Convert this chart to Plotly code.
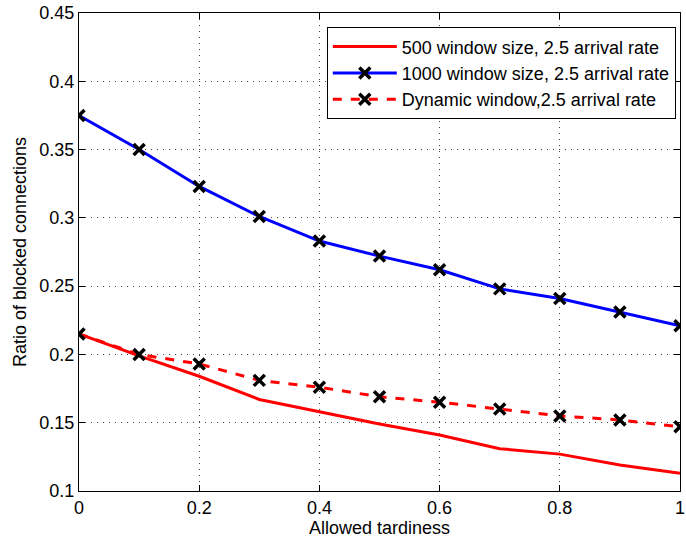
import plotly.graph_objects as go

tardiness = [0, 0.1, 0.2, 0.3, 0.4, 0.5, 0.6, 0.7, 0.8, 0.9, 1.0]
win500 = [0.215, 0.199, 0.184, 0.167, 0.158, 0.149, 0.141, 0.131, 0.127, 0.119, 0.113]
win1000 = [0.375, 0.350, 0.323, 0.301, 0.283, 0.272, 0.262, 0.248, 0.241, 0.231, 0.221]
dynamic = [0.215, 0.200, 0.193, 0.181, 0.176, 0.169, 0.165, 0.160, 0.155, 0.152, 0.147]

names = ["500 window size, 2.5 arrival rate",
         "1000 window size, 2.5 arrival rate",
         "Dynamic window,2.5 arrival rate"]

xticks = [0, 0.2, 0.4, 0.6, 0.8, 1]
xticklabels = ["0", "0.2", "0.4", "0.6", "0.8", "1"]
yticks = [0.1, 0.15, 0.2, 0.25, 0.3, 0.35, 0.4, 0.45]
yticklabels = ["0.1", "0.15", "0.2", "0.25", "0.3", "0.35", "0.4", "0.45"]

font = "Liberation Sans, Arial, sans-serif"
mk = dict(symbol="x-thin", size=11, color="black", line=dict(color="black", width=3.5))

fig = go.Figure()
fig.add_trace(go.Scatter(x=tardiness, y=win500, mode="lines", name=names[0],
                         line=dict(color="#ff0000", width=3)))
fig.add_trace(go.Scatter(x=tardiness, y=win1000, mode="lines+markers", name=names[1],
                         line=dict(color="#0000ff", width=3), marker=mk))
fig.add_trace(go.Scatter(x=tardiness, y=dynamic, mode="lines+markers", name=names[2],
                         line=dict(color="#ff0000", width=3, dash="dash"), marker=mk))

axis_common = dict(showline=True, linecolor="black", linewidth=1, mirror="ticks",
                   ticks="inside", ticklen=6, tickcolor="black",
                   showgrid=True, gridcolor="#444444", griddash="1px,5px", gridwidth=1,
                   zeroline=False, ticklabeloverflow="allow",
                   tickfont=dict(family=font, size=18, color="black"))

fig.update_layout(
    width=686, height=544,
    margin=dict(l=79, r=1, t=13, b=53),
    paper_bgcolor="white", plot_bgcolor="white",
    font=dict(family=font, color="black"),
    xaxis=dict(range=[0, 1], tickvals=xticks, ticktext=xticklabels,
               title=dict(text="Allowed tardiness", font=dict(size=18), standoff=2),
               **axis_common),
    yaxis=dict(range=[0.1, 0.45], tickvals=yticks, ticktext=yticklabels,
               title=dict(text="Ratio of blocked connections", font=dict(size=18), standoff=8),
               **axis_common),
    legend=dict(x=0.993, y=0.97, xanchor="right", yanchor="top",
                bgcolor="white", bordercolor="black", borderwidth=1,
                font=dict(family=font, size=18, color="black"),
                tracegroupgap=0, itemwidth=64),
    showlegend=True,
)

fig.write_html("out.html", config={"displayModeBar": False},
               post_script="document.body.style.margin='0';")
